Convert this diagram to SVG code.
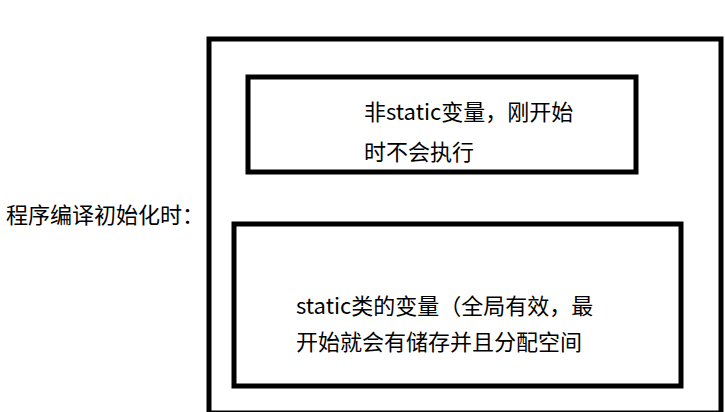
<svg xmlns="http://www.w3.org/2000/svg" width="725" height="412" viewBox="0 0 725 412">
<style>
.box{fill:none;stroke:#000;stroke-width:5}
.t{font-family:"Noto Sans CJK SC","Noto Sans",sans-serif;font-size:22px;fill:#000}
</style>
<rect width="725" height="412" fill="#fff"/>
<g id="label">
<text class="t" x="6" y="222.5">程序编译初始化时：</text>
</g>
<g id="outer">
<rect class="box" x="209" y="39" width="512" height="374"/>
</g>
<g id="nonstatic">
<rect class="box" x="248" y="77" width="388" height="95"/>
<text class="t" x="364" y="120">非static变量，刚开始</text>
<text class="t" x="364" y="160">时不会执行</text>
</g>
<g id="static">
<rect class="box" x="234" y="224" width="447" height="162"/>
<text class="t" x="296" y="313.5">static类的变量（全局有效，最</text>
<text class="t" x="296" y="350">开始就会有储存并且分配空间</text>
</g>
<g id="connectors"></g>
</svg>
